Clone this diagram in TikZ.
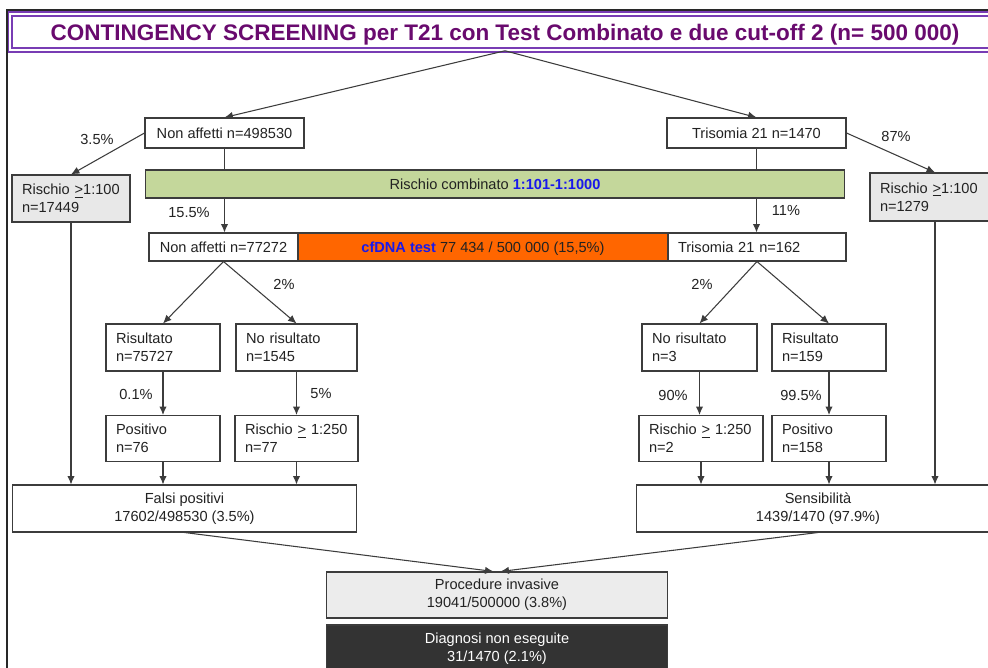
\documentclass[tikz,border=0pt]{standalone}
\usepackage{fontspec}
\setmainfont{Liberation Sans}
\usetikzlibrary{arrows.meta}
\definecolor{framegray}{RGB}{40,40,40}
\definecolor{linegray}{RGB}{60,60,60}
\definecolor{titlepurple}{RGB}{120,60,180}
\definecolor{titletext}{RGB}{105,10,110}
\definecolor{barblue}{RGB}{25,25,235}
\definecolor{bargreen}{RGB}{196,215,155}
\definecolor{barorange}{RGB}{255,102,0}
\definecolor{boxgray}{RGB}{232,232,232}
\definecolor{procgray}{RGB}{236,236,236}
\definecolor{darkbox}{RGB}{51,51,51}
\definecolor{textgray}{RGB}{34,34,34}
\begin{document}
\begin{tikzpicture}[x=0.02cm, y=-0.02cm,
    box/.style={draw=linegray, line width=0.6pt, inner sep=0pt, text=textgray,
        font=\fontsize{8.3}{10.2}\selectfont},
    cbox/.style={box, align=center, minimum width=#1},
    lbox/.style={box, align=left, inner xsep=0.2cm, text width=#1},
    oneline/.style={text height=6.2pt, text depth=0.3pt},
    pct/.style={text=textgray, font=\fontsize{8.3}{10.2}\selectfont, inner sep=0pt},
    link/.style={draw=linegray, line width=0.6pt},
    arr/.style={link, -{Latex[length=4.8pt,width=4.2pt]}}]
        \useasboundingbox (0,0) rectangle (988,668);
        \fill[white] (0,0) rectangle (988,668);
        \draw[framegray, line width=1pt] (7,680) |- (1000,10);
        \node[box, draw=titlepurple, double=white, double distance=1.1pt, line width=0.9pt,
            minimum width=19.8cm, minimum height=0.72cm, text=titletext,
            text height=9.5pt, text depth=0.3pt,
            font=\fontsize{12.8}{14}\selectfont\bfseries] (title) at (505,32)
            {CONTINGENCY SCREENING per T21 con Test Combinato e due cut-off 2 (n= 500 000)};
        \node[cbox=3.18cm, minimum height=0.6cm, oneline] (na1) at (224.5,133) {Non affetti n=498530};
        \node[cbox=3.58cm, minimum height=0.6cm, oneline] (t1) at (756.5,133) {Trisomia 21 n=1470};
        \node[cbox=14cm, minimum height=0.56cm, fill=bargreen, oneline] (comb) at (495,184)
            {Rischio combinato \textcolor{barblue}{\bfseries 1:101-1:1000}};
        \node[lbox=1.96cm, minimum height=0.94cm, fill=boxgray] (r1) at (71,198.5) {Rischio~\underline{>}1:100\\n=17449};
        \node[lbox=2.2cm, minimum height=0.96cm, fill=boxgray] (r2) at (935,197) {Rischio~\underline{>}1:100\\n=1279};
        \node[cbox=2.98cm, minimum height=0.56cm, oneline] (na2) at (223.5,247) {Non affetti n=77272};
        \node[cbox=7.4cm, minimum height=0.56cm, fill=barorange, oneline] (cfdna) at (483,247)
            {\textcolor{barblue}{\bfseries cfDNA test} 77 434 / 500 000 (15,5\%)};
        \node[lbox=3.16cm, minimum height=0.56cm, oneline] (t2) at (757,247) {Trisomia 21 n=162};
        \node[lbox=1.88cm, minimum height=0.94cm] (risl) at (163,347.5) {Risultato\\n=75727};
        \node[lbox=2.02cm, minimum height=0.94cm] (norisl) at (296.5,347.5) {No risultato\\n=1545};
        \node[lbox=1.9cm, minimum height=0.94cm] (norisr) at (699.5,347.5) {No risultato\\n=3};
        \node[lbox=1.88cm, minimum height=0.94cm] (risr) at (829,347.5) {Risultato\\n=159};
        \node[lbox=1.88cm, minimum height=0.92cm] (posl) at (163,438.5) {Positivo\\n=76};
        \node[lbox=2.06cm, minimum height=0.92cm] (rischl) at (296.5,438.5) {Rischio~\underline{>}~1:250\\n=77};
        \node[lbox=2.08cm, minimum height=0.92cm] (rischr) at (701,438.5) {Rischio~\underline{>}~1:250\\n=2};
        \node[lbox=1.88cm, minimum height=0.92cm] (posr) at (829,438.5) {Positivo\\n=158};
        \node[cbox=6.9cm, minimum height=0.94cm] (falsi) at (184.5,508.5) {Falsi positivi\\17602/498530 (3.5\%)};
        \node[cbox=7.28cm, minimum height=0.94cm] (sens) at (818,508.5) {Sensibilità\\1439/1470 (97.9\%)};
        \node[cbox=6.84cm, minimum height=0.92cm, fill=procgray] (proc) at (497,595) {Procedure invasive\\19041/500000 (3.8\%)};
        \node[cbox=6.84cm, minimum height=0.94cm, fill=darkbox, text=white] (diag) at (497,648.5) {Diagnosi non eseguite\\31/1470 (2.1\%)};
        \draw[arr] (title.south) -- (na1.north);
        \draw[arr] (title.south) -- (t1.north);
        \draw[arr] (na1.west) -- (r1.north);
        \draw[arr] (t1.east) -- (r2.north);
        \draw[link] (na1.south) -- (na1.south |- comb.north);
        \draw[arr] (na1.south |- comb.south) -- (na1.south |- na2.north);
        \draw[link] (t1.south) -- (t1.south |- comb.north);
        \draw[arr] (t1.south |- comb.south) -- (t1.south |- t2.north);
        \draw[arr] (na2.south) -- (risl.north);
        \draw[arr] (na2.south) -- (norisl.north);
        \draw[arr] (t2.south) -- (norisr.north);
        \draw[arr] (t2.south) -- (risr.north);
        \draw[arr] (risl) -- (posl);
        \draw[arr] (norisl) -- (rischl);
        \draw[arr] (norisr.south) -- (norisr.south |- rischr.north);
        \draw[arr] (risr) -- (posr);
        \draw[arr] (r1.south) -- (r1.south |- falsi.north);
        \draw[arr] (posl.south) -- (posl.south |- falsi.north);
        \draw[arr] (rischl.south) -- (rischl.south |- falsi.north);
        \draw[arr] (r2.south) -- (r2.south |- sens.north);
        \draw[arr] (rischr.south) -- (rischr.south |- sens.north);
        \draw[arr] (posr.south) -- (posr.south |- sens.north);
        \draw[arr] (falsi.south) -- ([xshift=-2pt]proc.north);
        \draw[arr] (sens.south) -- ([xshift=2pt]proc.north);
        \node[pct] (p35) at (97,139) {3.5\%};
        \node[pct] (p155) at (189,213) {15.5\%};
        \node[pct] (p87) at (896,136) {87\%};
        \node[pct] (p11) at (786,210) {11\%};
        \node[pct] (p2l) at (284,284) {2\%};
        \node[pct] (p2r) at (702,284) {2\%};
        \node[pct] (p01) at (136,394) {0.1\%};
        \node[pct] (p5) at (321,394) {5\%};
        \node[pct] (p90) at (673,395) {90\%};
        \node[pct] (p995) at (801,395) {99.5\%};
    \end{tikzpicture}
\end{document}
